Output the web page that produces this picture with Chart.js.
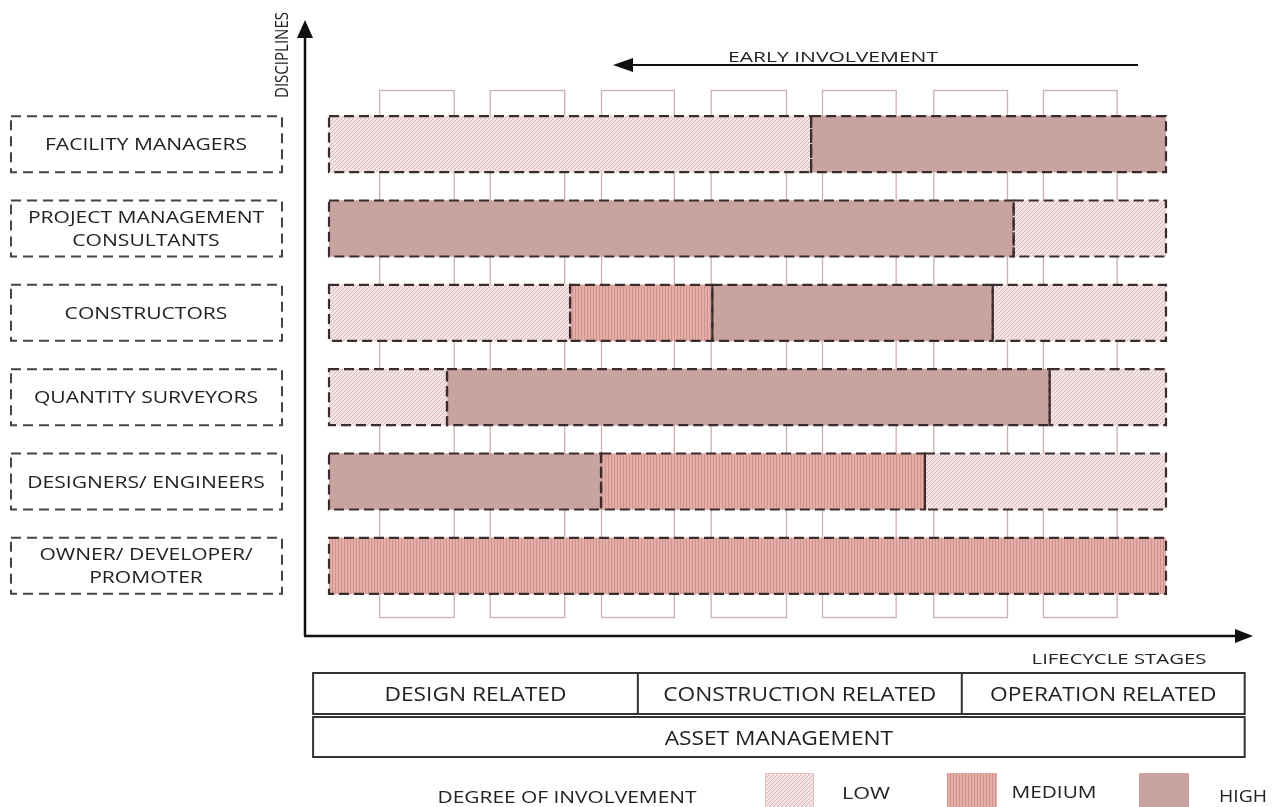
<!DOCTYPE html>
<html><head><meta charset="utf-8">
<script src="https://cdn.jsdelivr.net/npm/chart.js@4.4.1/dist/chart.umd.min.js"></script>
<style>html,body{margin:0;padding:0;background:#fff;overflow:hidden}canvas{display:block}</style>
</head><body>
<canvas id="c" width="1284" height="807"></canvas>
<script>
// ---- data (lifecycle position, 0 = start, 100 = end of lifecycle) ----
const disciplines = ['FACILITY MANAGERS','PROJECT MANAGEMENT CONSULTANTS','CONSTRUCTORS','QUANTITY SURVEYORS','DESIGNERS/ ENGINEERS','OWNER/ DEVELOPER/ PROMOTER'];
const disciplineLines = [['FACILITY MANAGERS'],['PROJECT MANAGEMENT','CONSULTANTS'],['CONSTRUCTORS'],['QUANTITY SURVEYORS'],['DESIGNERS/ ENGINEERS'],['OWNER/ DEVELOPER/','PROMOTER']];
const lowSpans      = [[0,57.6],[81.8,100],[0,28.8],[0,14.1],[71.2,100],null];
const lowSpansLate  = [null,null,[79.3,100],[86.1,100],null,null];
const mediumSpans   = [null,null,[28.8,45.8],null,[32.5,71.2],[0,100]];
const highSpans     = [[57.6,100],[0,81.8],[45.8,79.3],[14.1,86.1],[0,32.5],null];
const stageLanes    = [[6.0,14.9],[19.2,28.1],[32.5,41.2],[45.6,54.6],[58.9,67.7],[72.2,81.0],[85.3,94.1]];
const phaseLabels   = ['DESIGN RELATED','CONSTRUCTION RELATED','OPERATION RELATED'];
const phaseBounds   = [-1.9, 36.9, 75.6, 109.4];
const assetLabel    = 'ASSET MANAGEMENT';
const levelLabels   = ['LOW','MEDIUM','HIGH'];
const xAxisTitle    = 'LIFECYCLE STAGES';
const yAxisTitle    = 'DISCIPLINES';
const arrowTitle    = 'EARLY INVOLVEMENT';
const legendTitle   = 'DEGREE OF INVOLVEMENT';

const canvas = document.getElementById('c');
const ctx0 = canvas.getContext('2d');
const FONT = '"Open Sans"';

function lowPattern(){
  const c=document.createElement('canvas'); c.width=c.height=4;
  const g=c.getContext('2d');
  g.fillStyle='#f4e6e6'; g.fillRect(0,0,4,4);
  g.strokeStyle='#d9b0b0'; g.lineWidth=0.9;
  g.beginPath(); g.moveTo(-1,5); g.lineTo(5,-1); g.moveTo(-1,1); g.lineTo(1,-1); g.moveTo(3,5); g.lineTo(5,3); g.stroke();
  return ctx0.createPattern(c,'repeat');
}
function medPattern(){
  const c=document.createElement('canvas'); c.width=3; c.height=4;
  const g=c.getContext('2d');
  g.fillStyle='#e3aea7'; g.fillRect(0,0,3,4);
  g.fillStyle='#d0938d'; g.fillRect(2,0,1,4);
  return ctx0.createPattern(c,'repeat');
}
const LOW_FILL = lowPattern();
const MED_FILL = medPattern();
const HIGH_FILL = '#c9a3a0';
const levelFills = [LOW_FILL, MED_FILL, HIGH_FILL];
const TXT = '#222';

function drawFit(ctx, text, x, y, w, size, align){
  ctx.font = size + 'px ' + FONT;
  const m = ctx.measureText(text).width;
  ctx.save(); ctx.translate(x,y); ctx.scale(w/m,1);
  ctx.textAlign = align || 'center'; ctx.textBaseline='alphabetic';
  ctx.fillText(text,0,0); ctx.restore();
}
function arrowHead(ctx, tx, ty, dir, len, half){
  ctx.beginPath();
  if(dir==='up'){ ctx.moveTo(tx,ty); ctx.lineTo(tx-half,ty+len); ctx.lineTo(tx+half,ty+len); }
  else if(dir==='right'){ ctx.moveTo(tx,ty); ctx.lineTo(tx-len,ty-half); ctx.lineTo(tx-len,ty+half); }
  else { ctx.moveTo(tx,ty); ctx.lineTo(tx+len,ty-half); ctx.lineTo(tx+len,ty+half); }
  ctx.closePath(); ctx.fill();
}

const decor = {
  id:'decor',
  beforeDatasetsDraw(chart){
    const {ctx, chartArea:a, scales:{x}} = chart;
    ctx.save();
    const top=a.top-12, bot=a.bottom+9;
    stageLanes.forEach(([s,e])=>{
      const l=x.getPixelForValue(s), r=x.getPixelForValue(e);
      ctx.fillStyle='#fff'; ctx.fillRect(l,top,r-l,bot-top);
      ctx.strokeStyle='#cdaeb0'; ctx.lineWidth=1.3; ctx.strokeRect(l+0.5,top+0.5,r-l,bot-top);
    });
    ctx.restore();
  },
  afterDatasetsDraw(chart){
    const {ctx} = chart;
    ctx.save();
    ctx.strokeStyle='#3a2c2c'; ctx.lineWidth=2.2; ctx.setLineDash([10,5]);
    chart.data.datasets.forEach((ds,di)=>{
      const meta=chart.getDatasetMeta(di);
      meta.data.forEach((el,i)=>{
        if(ds.data[i]==null) return;
        const p=el.getProps(['x','y','base','height'],true);
        const l=Math.min(p.x,p.base), w=Math.abs(p.x-p.base);
        ctx.strokeRect(l,p.y-p.height/2,w,p.height);
      });
    });
    ctx.restore();
  },
  afterDraw(chart){
    const {ctx, chartArea:a, scales:{x,y}} = chart;
    ctx.save();
    ctx.fillStyle=TXT;
    // left discipline boxes
    ctx.font='16px '+FONT;
    const sx = 202/ctx.measureText('FACILITY MANAGERS').width;
    disciplineLines.forEach((lines,i)=>{
      const cy=y.getPixelForValue(i);
      ctx.save(); ctx.strokeStyle='#444'; ctx.lineWidth=2; ctx.setLineDash([10,6]);
      ctx.strokeRect(11,cy-28,271,56); ctx.restore();
      const bases = lines.length===1 ? [cy+6] : [cy-5.5, cy+17.5];
      lines.forEach((t,k)=>{
        ctx.font='16px '+FONT; const w=ctx.measureText(t).width*sx;
        drawFit(ctx,t,146,bases[k],w,16,'center');
      });
    });
    // axes
    const ax = a.left-24, ay = a.bottom+28;
    ctx.strokeStyle='#111'; ctx.fillStyle='#111'; ctx.lineWidth=2.5;
    ctx.beginPath(); ctx.moveTo(ax,ay); ctx.lineTo(ax,36); ctx.stroke();
    arrowHead(ctx,ax,20,'up',18,8);
    ctx.beginPath(); ctx.moveTo(ax-1,ay); ctx.lineTo(1238,ay); ctx.stroke();
    arrowHead(ctx,1253,ay,'right',18,7);
    // early involvement arrow
    ctx.lineWidth=2;
    ctx.beginPath(); ctx.moveTo(1138,65); ctx.lineTo(630,65); ctx.stroke();
    arrowHead(ctx,613,65,'left',20,7);
    ctx.fillStyle=TXT;
    drawFit(ctx,arrowTitle,833,62,210,15,'center');
    // axis titles
    ctx.save(); ctx.translate(288,55); ctx.rotate(-Math.PI/2);
    drawFit(ctx,yAxisTitle,0,0,86,19,'center'); ctx.restore();
    drawFit(ctx,xAxisTitle,1119,664,175,15,'center');
    // phase table
    const px = phaseBounds.map(v=>x.getPixelForValue(v));
    ctx.strokeStyle='#333'; ctx.lineWidth=2;
    ctx.strokeRect(px[0],673,px[3]-px[0],41);
    ctx.beginPath(); ctx.moveTo(px[1],673); ctx.lineTo(px[1],714); ctx.moveTo(px[2],673); ctx.lineTo(px[2],714); ctx.stroke();
    ctx.strokeRect(px[0],717,px[3]-px[0],40);
    ctx.font='20px '+FONT;
    const tsx = 182/ctx.measureText('DESIGN RELATED').width;
    phaseLabels.forEach((t,i)=>{
      ctx.font='20px '+FONT; const w=ctx.measureText(t).width*tsx;
      drawFit(ctx,t,(px[i]+px[i+1])/2,701,w,20,'center');
    });
    ctx.font='20px '+FONT;
    drawFit(ctx,assetLabel,(px[0]+px[3])/2,745,ctx.measureText(assetLabel).width*tsx,20,'center');
    // legend
    drawFit(ctx,legendTitle,567,803,259,16,'center');
    const sw=[[765,814],[947,997],[1139,1189]];
    const lt=[[866,799,48],[1054,798,85],[1243,802,48]];
    levelLabels.forEach((t,i)=>{
      ctx.fillStyle=levelFills[i];
      ctx.fillRect(sw[i][0],773,sw[i][1]-sw[i][0],40);
      if(i===0){ ctx.strokeStyle='#e0c4c4'; ctx.lineWidth=1; ctx.strokeRect(sw[i][0]+0.5,773.5,sw[i][1]-sw[i][0]-1,40); }
      ctx.fillStyle=TXT;
      drawFit(ctx,t,lt[i][0],lt[i][1],lt[i][2],16,'center');
    });
    ctx.restore();
  }
};

const common = {grouped:false, barThickness:56, borderWidth:0, borderSkipped:false};
new Chart(canvas,{
  type:'bar',
  data:{
    labels: disciplines,
    datasets:[
      {label:levelLabels[0], data:lowSpans, backgroundColor:LOW_FILL, ...common},
      {label:levelLabels[0], data:lowSpansLate, backgroundColor:LOW_FILL, ...common},
      {label:levelLabels[1], data:mediumSpans, backgroundColor:MED_FILL, ...common},
      {label:levelLabels[2], data:highSpans, backgroundColor:HIGH_FILL, ...common}
    ]
  },
  options:{
    indexAxis:'y', responsive:false, animation:false, devicePixelRatio:1,
    layout:{padding:{left:329,right:118,top:102,bottom:199}},
    scales:{
      x:{type:'linear',min:0,max:100,display:false},
      y:{type:'category',display:false}
    },
    plugins:{legend:{display:false},tooltip:{enabled:false}}
  },
  plugins:[decor]
});
</script>
</body></html>
